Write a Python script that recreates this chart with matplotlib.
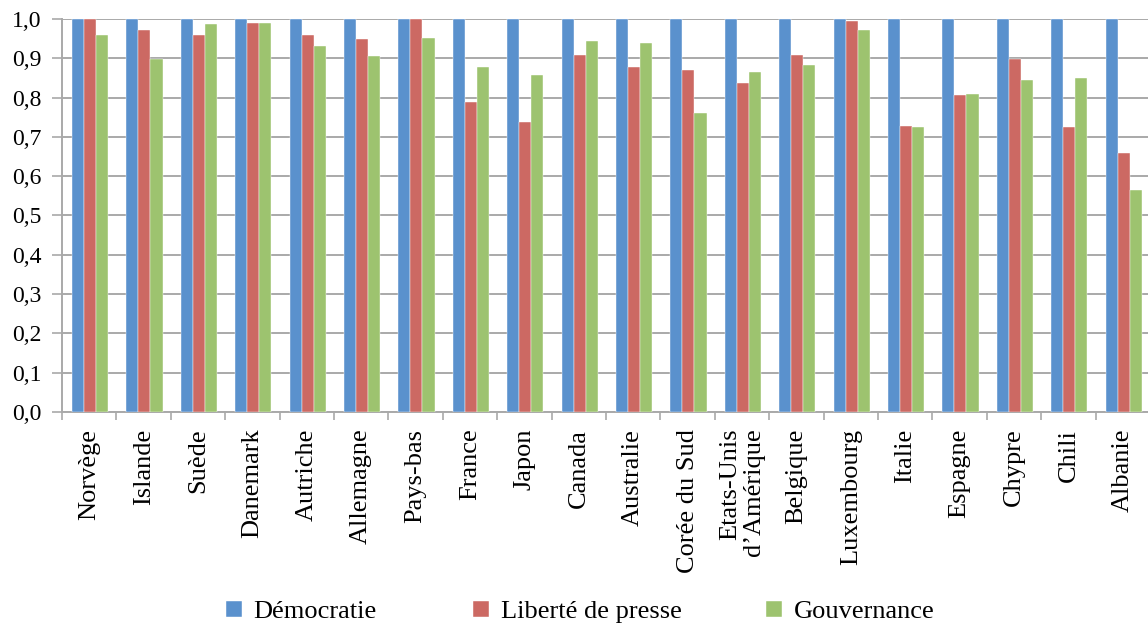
import matplotlib
matplotlib.use("Agg")
import matplotlib.pyplot as plt
import numpy as np
from matplotlib.ticker import FuncFormatter, MultipleLocator, FixedLocator

plt.rcParams['font.family'] = ['Liberation Serif', 'DejaVu Serif']

pays = ["Norvège", "Islande", "Suède", "Danemark", "Autriche", "Allemagne",
        "Pays-bas", "France", "Japon", "Canada", "Australie", "Corée du Sud",
        "Etats-Unis\nd\u2019Amérique", "Belgique", "Luxembourg", "Italie",
        "Espagne", "Chypre", "Chili", "Albanie"]

democratie = [1.0, 1.0, 1.0, 1.0, 1.0, 1.0, 1.0, 1.0, 1.0, 1.0,
              1.0, 1.0, 1.0, 1.0, 1.0, 1.0, 1.0, 1.0, 1.0, 1.0]
liberte_presse = [1.0, 0.971, 0.960, 0.991, 0.960, 0.948, 1.0, 0.790, 0.739, 0.908,
                  0.877, 0.870, 0.838, 0.908, 0.995, 0.727, 0.806, 0.898, 0.724, 0.660]
gouvernance = [0.960, 0.898, 0.987, 0.991, 0.932, 0.905, 0.952, 0.877, 0.857, 0.944,
               0.940, 0.762, 0.866, 0.884, 0.971, 0.724, 0.810, 0.846, 0.849, 0.566]

series = [("Démocratie", democratie, "#5a91cd"),
          ("Liberté de presse", liberte_presse, "#cc6963"),
          ("Gouvernance", gouvernance, "#9dc36f")]

W, H = 1148, 625
fig = plt.figure(figsize=(W / 100, H / 100), dpi=100)
ax = fig.add_axes([62 / W, 213 / H, 1088 / W, 393 / H])

x = np.arange(len(pays))
bw = 0.222
bars = []
for k, (name, vals, col) in enumerate(series):
    b = ax.bar(x + (k - 1) * bw + 0.015, vals, width=bw, color=col, label=name,
               zorder=3, edgecolor="white", linewidth=0.3)
    bars.append(b)

ax.set_xlim(-0.5, len(pays) - 0.5)
ax.set_ylim(0, 1.0)
ax.yaxis.set_major_locator(MultipleLocator(0.1))
ax.yaxis.set_major_formatter(FuncFormatter(lambda v, p: f"{v:.1f}".replace(".", ",")))
ax.grid(axis="y", color="#a9a9a9", linewidth=1.4, zorder=0)

ax.set_xticks(x)
ax.set_xticklabels(pays, rotation=90, fontsize=19, linespacing=1.15,
                   va="top", ha="center")
for lab in ax.get_xticklabels():
    lab.set_multialignment("right")
ax.tick_params(axis="x", which="major", length=0, pad=12)
ax.xaxis.set_minor_locator(FixedLocator(np.arange(-0.5, len(pays), 1.0)))
ax.tick_params(axis="x", which="minor", length=6, width=1.2, color="#a9a9a9")
ax.tick_params(axis="y", length=7, width=1.2, color="#a9a9a9", labelsize=17, pad=8)

for s in ["top", "right"]:
    ax.spines[s].set_visible(False)
for s in ["left", "bottom"]:
    ax.spines[s].set_color("#a9a9a9")
    ax.spines[s].set_linewidth(1.4)

# one legend entry per series, spread along the bottom edge
entry_x = [226, 473, 766]
for b, (name, _, _), ex in zip(bars, series, entry_x):
    fig.legend([b], [name], loc="center left", bbox_to_anchor=(ex / W, 13 / H),
               frameon=False, fontsize=19, handlelength=0.6, handleheight=0.6,
               handletextpad=0.45, borderpad=0, borderaxespad=0)

fig.savefig("out.png", dpi=100)
